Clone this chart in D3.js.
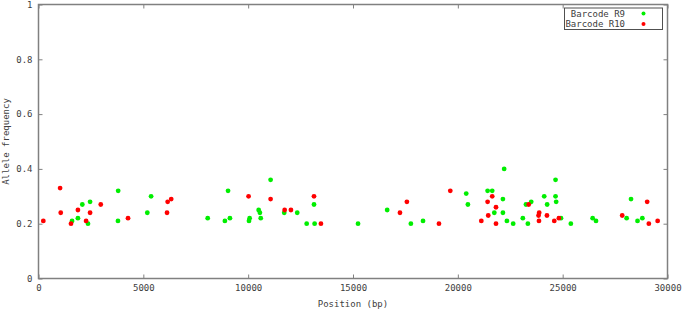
<!DOCTYPE html>
<html>
<head>
<meta charset="utf-8">
<script src="https://cdn.jsdelivr.net/npm/d3@7"></script>
<style>
body { margin: 0; background: #fff; }
svg text { font-family: "DejaVu Sans Mono", monospace; font-size: 9px; fill: #404040; }
</style>
</head>
<body>
<script>
"use strict";
// positions (bp) and allele frequencies
const r9Pos = [1600, 1880, 2090, 2360, 2460, 3790, 3800, 5190, 5370, 8070, 8890, 9040, 9130, 10040, 10070, 10500, 10560, 10600, 11070, 11720, 12340, 12790, 13140, 13170, 15240, 16630, 17760, 18340, 20400, 20480, 21420, 21640, 21740, 22150, 22150, 22210, 22340, 22640, 23100, 23250, 23340, 23500, 24120, 24260, 24660, 24660, 24690, 24920, 25390, 26430, 26590, 28050, 28260, 28570, 28800];
const r9Freq = [0.21, 0.22, 0.27, 0.20, 0.28, 0.21, 0.32, 0.24, 0.30, 0.22, 0.21, 0.32, 0.22, 0.21, 0.22, 0.25, 0.24, 0.22, 0.36, 0.24, 0.24, 0.20, 0.27, 0.20, 0.20, 0.25, 0.20, 0.21, 0.31, 0.27, 0.32, 0.32, 0.24, 0.29, 0.24, 0.40, 0.21, 0.20, 0.22, 0.27, 0.20, 0.28, 0.30, 0.27, 0.36, 0.30, 0.28, 0.22, 0.20, 0.22, 0.21, 0.22, 0.29, 0.21, 0.22];
const r10Pos = [230, 1030, 1060, 1550, 1880, 2270, 2460, 2970, 4270, 6130, 6160, 6330, 10020, 11070, 11740, 12040, 13140, 13470, 17240, 17570, 19100, 19640, 21120, 21420, 21450, 21640, 21820, 21820, 23380, 23850, 23870, 23880, 24250, 24600, 24820, 27840, 29030, 29110, 29530];
const r10Freq = [0.21, 0.33, 0.24, 0.20, 0.25, 0.21, 0.24, 0.27, 0.22, 0.24, 0.28, 0.29, 0.30, 0.29, 0.25, 0.25, 0.30, 0.20, 0.24, 0.28, 0.20, 0.32, 0.21, 0.28, 0.23, 0.30, 0.26, 0.20, 0.27, 0.23, 0.21, 0.24, 0.23, 0.21, 0.22, 0.23, 0.28, 0.20, 0.21];
const xTicks = [0, 5000, 10000, 15000, 20000, 25000, 30000];
const yTicks = [0, 0.2, 0.4, 0.6, 0.8, 1];
const seriesNames = ["Barcode R9", "Barcode R10"];
const seriesColors = ["#00ee00", "#ff0000"];

const w = 685, h = 311;
const pLeft = 38.5, pRight = 667.5, pTop = 4.5, pBottom = 278.5;
const axisColor = "#808080";

const svg = d3.select("body").append("svg").attr("width", w).attr("height", h);
const xScale = d3.scaleLinear().domain([0, 30000]).range([pLeft, pRight]);
const yScale = d3.scaleLinear().domain([0, 1]).range([pBottom, pTop]);

// ticks (inward, mirrored)
const fmtY = d => d === 0 || d === 1 ? String(d) : d.toFixed(1);
svg.append("g").attr("transform", "translate(0," + pBottom + ")")
	.call(d3.axisBottom(xScale).tickValues(xTicks).tickSizeInner(-4).tickSizeOuter(0).tickPadding(6).tickFormat(d3.format("d")));
svg.append("g").attr("transform", "translate(0," + pTop + ")")
	.call(d3.axisTop(xScale).tickValues(xTicks).tickSizeInner(-4).tickSizeOuter(0).tickFormat(""));
svg.append("g").attr("transform", "translate(" + pLeft + ",0)")
	.call(d3.axisLeft(yScale).tickValues(yTicks).tickSizeInner(-4).tickSizeOuter(0).tickPadding(6).tickFormat(fmtY));
svg.append("g").attr("transform", "translate(" + pRight + ",0)")
	.call(d3.axisRight(yScale).tickValues(yTicks).tickSizeInner(-4).tickSizeOuter(0).tickFormat(""));
svg.selectAll(".domain").remove();
svg.selectAll(".tick line").attr("stroke", axisColor);
svg.selectAll(".tick text").attr("font-family", null).attr("font-size", null);

// frame
svg.append("rect").attr("x", pLeft).attr("y", pTop).attr("width", pRight - pLeft).attr("height", pBottom - pTop)
	.attr("fill", "none").attr("stroke", axisColor).attr("stroke-width", 1.5);

svg.append("text").attr("x", (pLeft + pRight) / 2).attr("y", 307).attr("text-anchor", "middle").text("Position (bp)");
svg.append("text").attr("transform", "translate(9," + ((pTop + pBottom) / 2) + ") rotate(-90)")
	.attr("text-anchor", "middle").text("Allele frequency");

// points
const series = [d3.zip(r9Pos, r9Freq), d3.zip(r10Pos, r10Freq)];
series.forEach((pts, i) => {
	svg.append("g").selectAll("circle").data(pts).enter().append("circle")
		.attr("cx", d => xScale(d[0])).attr("cy", d => yScale(d[1]))
		.attr("r", 2.4).attr("fill", seriesColors[i]);
});

// legend
const lg = svg.append("g");
lg.append("rect").attr("x", 564.5).attr("y", 8).attr("width", 98).attr("height", 21.5)
	.attr("fill", "none").attr("stroke", "#505050").attr("stroke-width", 1);
seriesNames.forEach((name, i) => {
	const yy = 13.5 + i * 10.6;
	lg.append("text").attr("x", 625).attr("y", yy).attr("dy", "0.35em").attr("text-anchor", "end").text(name);
	lg.append("circle").attr("cx", 643.5).attr("cy", yy).attr("r", 2).attr("fill", seriesColors[i]);
});
</script>
</body>
</html>
